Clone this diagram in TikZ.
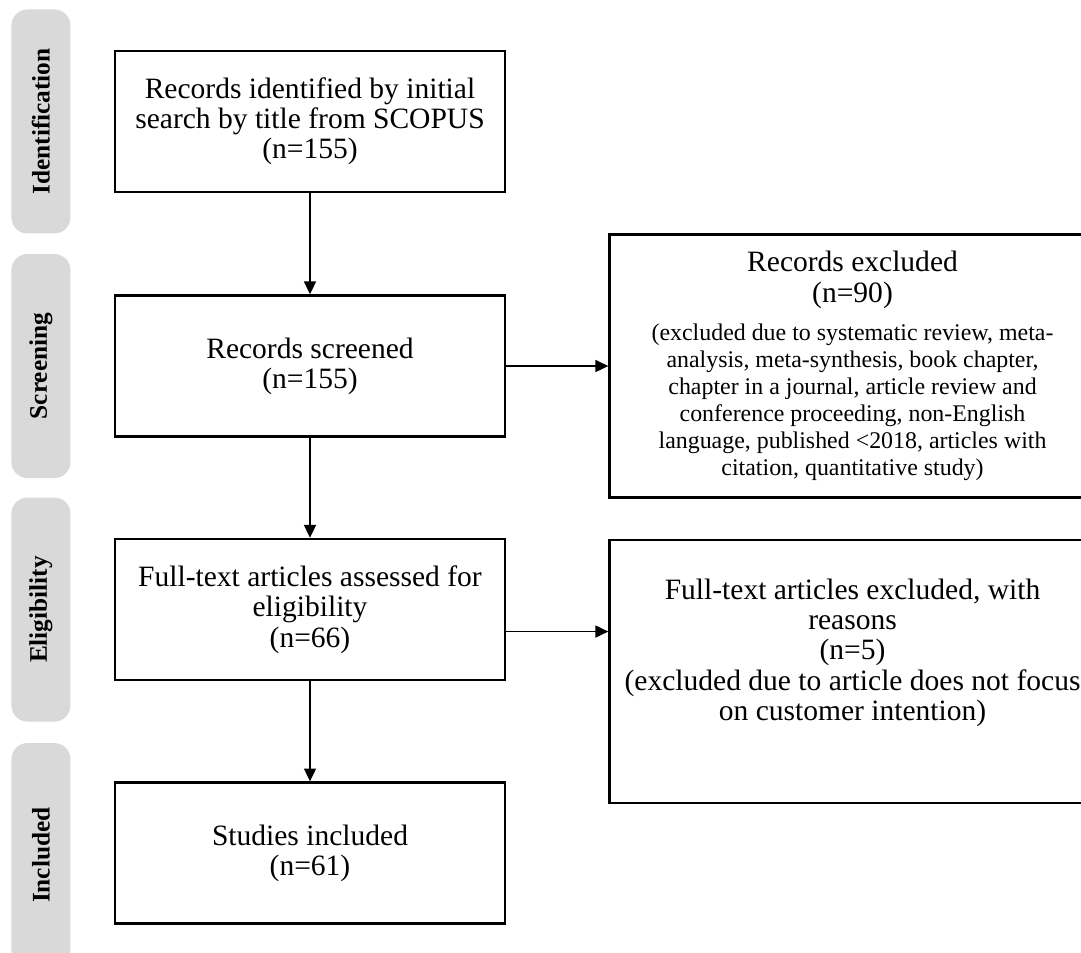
\documentclass[tikz,border=0pt]{standalone}
\usepackage{fontspec}
\setmainfont{Liberation Serif}
\usetikzlibrary{shapes, arrows.meta}
\usetikzlibrary{positioning}
\definecolor{stagegray}{HTML}{D9D9D9}
\newcommand{\reasonfont}{\fontsize{17}{19.2}\selectfont}
\tikzstyle{process} = [rectangle, minimum width=9.75cm, minimum height=3.525cm, text centered, align=center, draw=black, line width=1.8pt, font=\fontsize{21}{21.5}\selectfont]
\tikzstyle{excluded} = [rectangle, minimum width=12.15cm, minimum height=6.575cm, text centered, align=center, draw=black, line width=1.8pt, font=\fontsize{21}{21.5}\selectfont]
\tikzstyle{stage} = [rectangle, rounded corners=0.4cm, minimum width=1.475cm, minimum height=5.6cm, fill=stagegray, font=\fontsize{18}{20}\selectfont\bfseries]
\tikzstyle{arrow} = [line width=1pt,->,>={Triangle[length=0.32cm,width=0.3cm]}]

\begin{document}
\begin{tikzpicture}[node distance=2.5cm]

    \useasboundingbox (0,0) rectangle (27.025,-23.825);

    % Nodes
    \node (ident) [process] at (7.75,-3.0375) {Records identified by initial\\search by title from SCOPUS\\(n=155)};
    \node (screen) [process, below=2.525cm of ident] {Records screened\\(n=155)};
    \node (elig) [process, below=2.5cm of screen] {Full-text articles assessed for\\eligibility\\(n=66)};
    \node (incl) [process, below=2.5cm of elig] {Studies included\\(n=61)};
    \node (excl) [excluded, right=2.55cm of screen] {Records excluded\\(n=90)\\[0.2cm]\parbox[t]{11.8cm}{\centering\reasonfont (excluded due to systematic review, meta-\\analysis, meta-synthesis, book chapter,\\chapter in a journal, article review and\\conference proceeding, non-English\\language, published <2018, articles with\\citation, quantitative study)}};
    \node (exclfull) [excluded, below=1cm of excl, text depth=1.1cm] {Full-text articles excluded, with\\reasons\\(n=5)\\(excluded due to article does not focus\\on customer intention)};

    % Stages
    \node (stageid) [stage, left=1.075cm of ident] {\rotatebox{90}{Identification}};
    \node (stagescr) [stage, left=1.075cm of screen] {\rotatebox{90}{Screening}};
    \node (stageelig) [stage, left=1.075cm of elig] {\rotatebox{90}{Eligibility}};
    \node (stageincl) [stage, left=1.075cm of incl, yshift=-0.05cm] {\rotatebox{90}{Included}};

    % Arrows
    \draw [arrow] (ident) -- (screen);
    \draw [arrow] (screen) -- (elig);
    \draw [arrow] (elig) -- (incl);
    \draw [arrow] (screen.east) -- (excl.west);
    \draw [arrow] ([yshift=-0.55cm]elig.east) -- ([yshift=-0.55cm]elig.east -| exclfull.west);

\end{tikzpicture}
\end{document}
